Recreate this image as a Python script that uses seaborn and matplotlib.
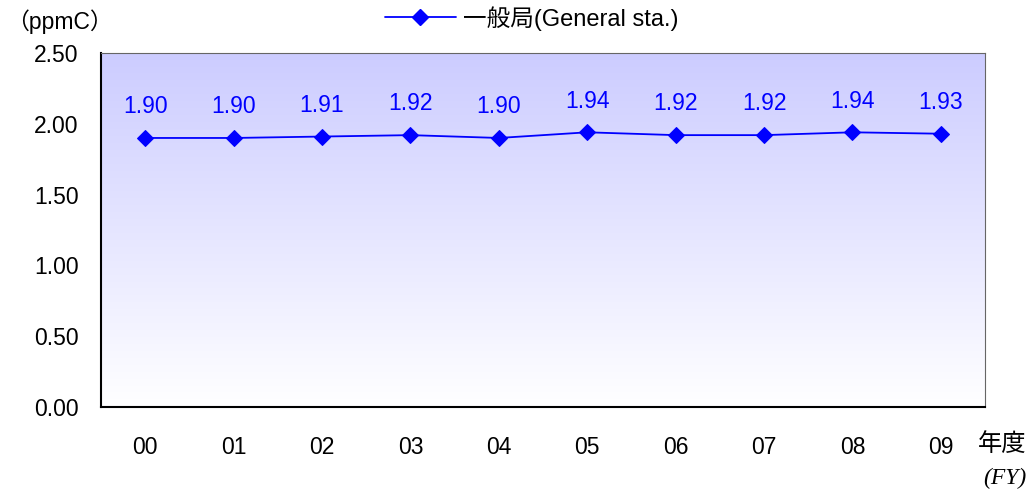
import numpy as np
import seaborn as sns
import matplotlib.pyplot as plt
from matplotlib.colors import LinearSegmentedColormap
from matplotlib.lines import Line2D

years = ["00", "01", "02", "03", "04", "05", "06", "07", "08", "09"]
values = [1.90, 1.90, 1.91, 1.92, 1.90, 1.94, 1.92, 1.92, 1.94, 1.93]
yticks = [0.0, 0.5, 1.0, 1.5, 2.0, 2.5]

sns.set_style("white")
plt.rcParams['font.family'] = ['Liberation Sans', 'Noto Sans CJK JP']
plt.rcParams['text.color'] = 'black'
plt.rcParams['xtick.labelcolor'] = 'black'
plt.rcParams['ytick.labelcolor'] = 'black'
fs = 16.5

fig = plt.figure(figsize=(10.32, 4.93), dpi=100)
ax = fig.add_axes([0.0979, 0.1744, 0.8566, 0.7181])

x = np.arange(len(years))
sns.lineplot(x=x, y=values, ax=ax, color='#0000ff', marker='D', markersize=8,
             markeredgecolor='#0000ff', linewidth=1.3, zorder=3, legend=False)

# background gradient
cmap = LinearSegmentedColormap.from_list('bg', ['#ffffff', '#ccccff'])
grad = np.linspace(0, 1, 256).reshape(-1, 1)
ax.imshow(grad, cmap=cmap, aspect='auto', origin='lower',
          extent=[-0.5, 9.5, 0, 2.5], zorder=0)

for xi, v in zip(x, values):
    ax.annotate(f"{v:.2f}", (xi, v), xytext=(0, 22.5), textcoords='offset points',
                ha='center', va='center', color='#0000ff', fontsize=fs)

ax.set_xlim(-0.5, 9.5)
ax.set_ylim(0, 2.5)
ax.set_yticks(yticks)
ax.set_yticklabels([f"{t:.2f}" for t in yticks], fontsize=fs)
ax.set_xticks(np.arange(0.5, 9.5, 1))
ax.set_xticklabels([])
ax.set_xticks(x, minor=True)
ax.set_xticklabels(years, minor=True, fontsize=fs)
ax.tick_params(axis='x', which='major', direction='in', length=7, width=0.8, color='#555555')
ax.tick_params(axis='x', which='minor', length=0, pad=21)
ax.tick_params(axis='y', direction='in', length=8, width=0.8, color='#555555', pad=16)

for s in ['left', 'bottom']:
    ax.spines[s].set_color('black')
    ax.spines[s].set_linewidth(1.5)
for s in ['top', 'right']:
    ax.spines[s].set_color('#666666')
    ax.spines[s].set_linewidth(0.8)

h = Line2D([], [], color='#0000ff', marker='D', markersize=8, linewidth=1.3)
fig.legend([h], ["一般局(General sta.)"], loc='center', bbox_to_anchor=(0.515, 0.963),
           frameon=False, fontsize=17, handlelength=3.0, handletextpad=0.3)

fig.text(0.006, 0.955, "（ppmC）", fontsize=fs, ha='left', va='center')
fig.text(0.995, 0.098, "年度", fontsize=17.5, ha='right', va='center')
fig.text(0.995, 0.03, "(FY)", fontsize=17, ha='right', va='center',
         family='Liberation Serif', style='italic')

fig.savefig("out.png", dpi=100)
